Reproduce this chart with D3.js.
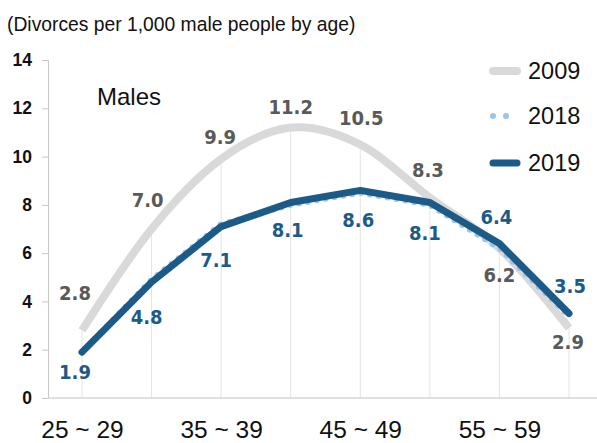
<!DOCTYPE html>
<html>
<head>
<meta charset="utf-8">
<script src="https://cdn.jsdelivr.net/npm/d3@7"></script>
<style>
  body { margin: 0; background: #fff; }
  svg { display: block; font-family: Arial, "Liberation Sans", sans-serif; }
</style>
</head>
<body>
<div id="chart"></div>
<script>
// --- data ---
const ageGroups = ["25 ~ 29", "30 ~ 34", "35 ~ 39", "40 ~ 44", "45 ~ 49", "50 ~ 54", "55 ~ 59", "60 ~ 64"];
const shownAgeTicks = ["25 ~ 29", "35 ~ 39", "45 ~ 49", "55 ~ 59"];
const values2009 = [2.8, 7.0, 9.9, 11.2, 10.5, 8.3, 6.2, 2.9];
const values2018 = [1.9, 4.9, 7.2, 8.0, 8.5, 8.0, 6.2, 3.4];
const values2019 = [1.9, 4.8, 7.1, 8.1, 8.6, 8.1, 6.4, 3.5];
const yTicks = [0, 2, 4, 6, 8, 10, 12, 14];

// label nudges (px) for the data labels, [dx, dy] from the point
const offsets2009 = [[-7, -37], [-4, -29], [-1, -22], [0, -21], [1, -27], [-2, -28], [0, 27], [-1, 14]];
const offsets2019 = [[-7, 20], [-5, 35], [-5, 33], [-3, 28], [-2, 30], [-5, 31], [-3, -26], [1, -28]];

const W = 597, H = 443;
const grey = "#d9d9d9", navy = "#1c5b88", sky = "#9dc3e6";

const svg = d3.select("#chart").append("svg")
  .attr("width", W)
  .attr("height", H);

const x = d3.scalePoint().domain(ageGroups).range([82, 569]);
const y = d3.scaleLinear().domain([0, 14]).range([398, 60]);

// title
svg.append("text")
  .attr("x", 7).attr("y", 31)
  .attr("font-size", 19.3)
  .attr("fill", "#111")
  .text("(Divorces per 1,000 male people by age)");

// drop lines from the 2009 series
svg.append("g")
  .selectAll("line")
  .data(ageGroups)
  .join("line")
  .attr("x1", d => x(d)).attr("x2", d => x(d))
  .attr("y1", (d, i) => y(values2009[i])).attr("y2", y(0))
  .attr("stroke", "#e4e4e4")
  .attr("stroke-width", 1);

// y axis
const yAxis = svg.append("g")
  .attr("transform", "translate(48,0)")
  .call(d3.axisLeft(y).tickValues(yTicks).tickSize(6).tickPadding(10));
yAxis.select(".domain").attr("stroke", "#c8c8c8");
yAxis.selectAll(".tick line").attr("stroke", "#c8c8c8");
yAxis.selectAll("text")
  .attr("font-size", 17.5)
  .attr("font-weight", "bold")
  .attr("font-family", "Arial, 'Liberation Sans', sans-serif")
  .attr("fill", "#111");

// baseline
svg.append("line")
  .attr("x1", 48).attr("x2", W)
  .attr("y1", y(0)).attr("y2", y(0))
  .attr("stroke", "#d6d6d6")
  .attr("stroke-width", 1.5);

// x axis labels
const xAxis = svg.append("g")
  .attr("transform", `translate(0,${y(0)})`)
  .call(d3.axisBottom(x).tickValues(shownAgeTicks).tickSize(0).tickPadding(23));
xAxis.select(".domain").remove();
xAxis.selectAll("text")
  .attr("font-size", 24.5)
  .attr("font-family", "Arial, 'Liberation Sans', sans-serif")
  .attr("fill", "#111");

// lines
const smooth = d3.line()
  .x((d, i) => x(ageGroups[i]))
  .y(d => y(d))
  .curve(d3.curveCatmullRom.alpha(0));

const straight = d3.line()
  .x((d, i) => x(ageGroups[i]))
  .y(d => y(d));

svg.append("path")
  .attr("d", smooth(values2009))
  .attr("fill", "none")
  .attr("stroke", grey)
  .attr("stroke-width", 8);

svg.append("path")
  .attr("d", straight(values2018))
  .attr("fill", "none")
  .attr("stroke", sky)
  .attr("stroke-width", 6)
  .attr("stroke-linecap", "round")
  .attr("stroke-dasharray", "0,9");

svg.append("path")
  .attr("d", straight(values2019))
  .attr("fill", "none")
  .attr("stroke", navy)
  .attr("stroke-width", 7)
  .attr("stroke-linecap", "round")
  .attr("stroke-linejoin", "round");

// data labels
const labelFont = "'DejaVu Sans Condensed', 'Liberation Sans Narrow', Arial, sans-serif";

svg.append("g")
  .selectAll("text")
  .data(values2009)
  .join("text")
  .attr("x", (d, i) => x(ageGroups[i]) + offsets2009[i][0])
  .attr("y", (d, i) => y(d) + offsets2009[i][1])
  .attr("dy", "0.35em")
  .attr("text-anchor", "middle")
  .attr("font-family", labelFont)
  .attr("font-size", 20)
  .attr("font-weight", "bold")
  .attr("fill", "#595959")
  .text(d => d.toFixed(1));

svg.append("g")
  .selectAll("text")
  .data(values2019)
  .join("text")
  .attr("x", (d, i) => x(ageGroups[i]) + offsets2019[i][0])
  .attr("y", (d, i) => y(d) + offsets2019[i][1])
  .attr("dy", "0.35em")
  .attr("text-anchor", "middle")
  .attr("font-family", labelFont)
  .attr("font-size", 20)
  .attr("font-weight", "bold")
  .attr("fill", navy)
  .text(d => d.toFixed(1));

// "Males"
svg.append("text")
  .attr("x", 97).attr("y", 105)
  .attr("font-size", 24)
  .attr("fill", "#111")
  .text("Males");

// legend
const legendItems = [
  { name: "2009", color: grey, y: 71, dash: null, width: 8 },
  { name: "2018", color: sky, y: 116, dash: "0,13", width: 6 },
  { name: "2019", color: navy, y: 163, dash: null, width: 7 }
];
const legend = svg.append("g");
legendItems.forEach(it => {
  legend.append("line")
    .attr("x1", 493).attr("x2", 517)
    .attr("y1", it.y).attr("y2", it.y)
    .attr("stroke", it.color)
    .attr("stroke-width", it.width)
    .attr("stroke-linecap", "round")
    .attr("stroke-dasharray", it.dash);
  legend.append("text")
    .attr("x", 528).attr("y", it.y + 8)
    .attr("font-size", 23.5)
    .attr("fill", "#111")
    .text(it.name);
});
</script>
</body>
</html>
